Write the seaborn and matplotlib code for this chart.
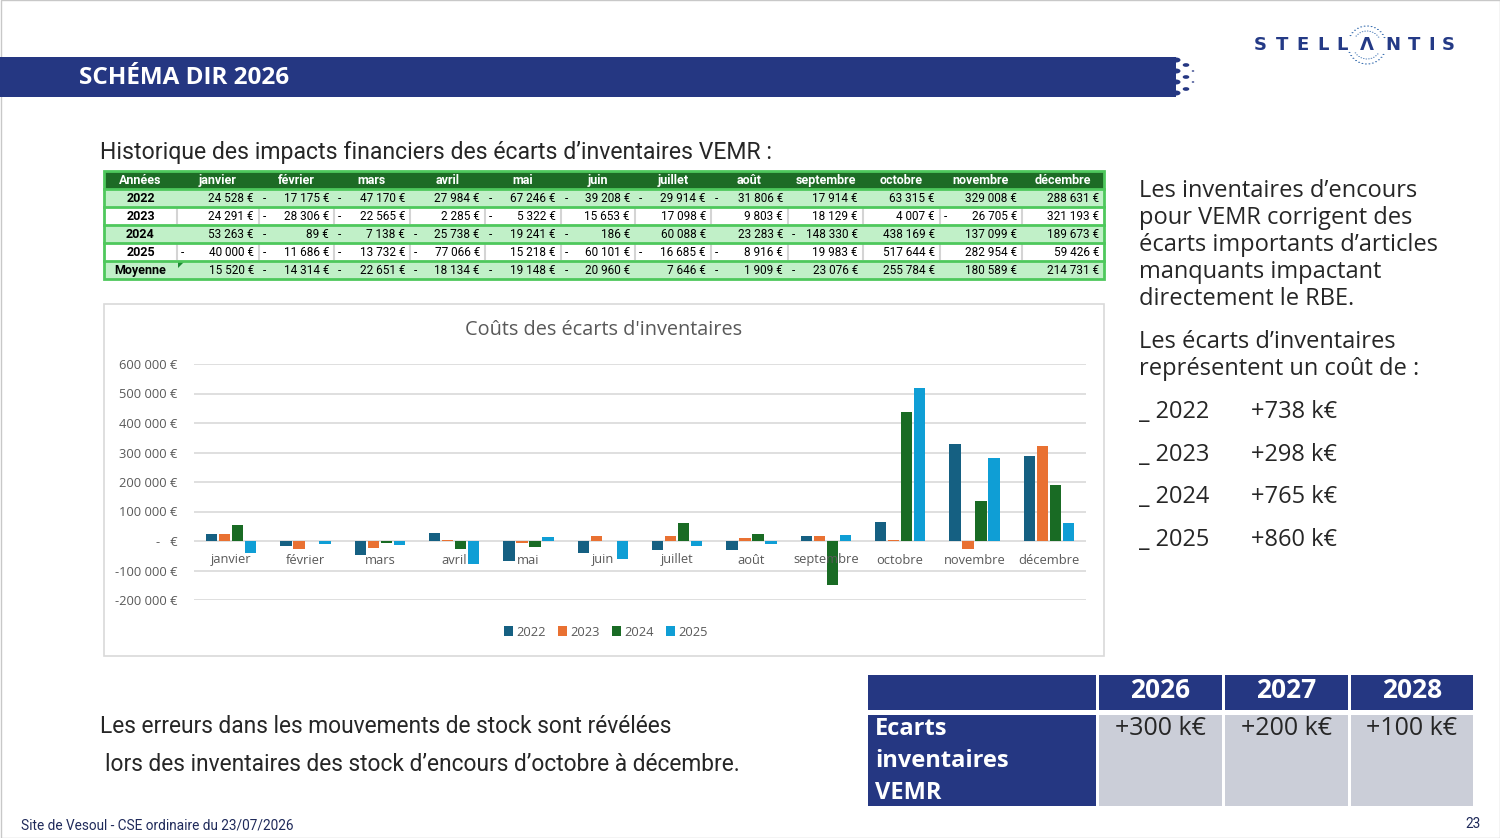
import numpy as np
import pandas as pd
import matplotlib
matplotlib.use('Agg')
import matplotlib.pyplot as plt
import seaborn as sns
from matplotlib.patches import Rectangle, Circle, Polygon
from matplotlib.lines import Line2D

# ---------------- data ----------------
mois = ['janvier', 'février', 'mars', 'avril', 'mai', 'juin', 'juillet',
        'août', 'septembre', 'octobre', 'novembre', 'décembre']
annees = ['2022', '2023', '2024', '2025']
v2022 = [24528, -17175, -47170, 27984, -67246, -39208, -29914, -31806, 17914, 63315, 329008, 288631]
v2023 = [24291, -28306, -22565, 2285, -5322, 15653, 17098, 9803, 18129, 4007, -26705, 321193]
v2024 = [53263, -89, -7138, -25738, -19241, -186, 60088, 23283, -148330, 438169, 137099, 189673]
v2025 = [-40000, -11686, -13732, -77066, 15218, -60101, -16685, -8916, 19983, 517644, 282954, 59426]
moyenne = [15520, -14314, -22651, -18134, -19148, -20960, 7646, -1909, -23076, 255784, 180589, 214731]
couleurs = ['#156082', '#e97132', '#196b24', '#0f9ed5']
yticks = [-200000, -100000, 0, 100000, 200000, 300000, 400000, 500000, 600000]

cout_annees = ['2022', '2023', '2024', '2025']
cout_valeurs = ['+738 k€', '+298 k€', '+765 k€', '+860 k€']
obj_annees = ['2026', '2027', '2028']
obj_valeurs = ['+300 k€', '+200 k€', '+100 k€']

series = {'2022': v2022, '2023': v2023, '2024': v2024, '2025': v2025}
df = pd.DataFrame([(m, a, series[a][i]) for a in annees for i, m in enumerate(mois)],
                  columns=['mois', 'annee', 'valeur'])

# ---------------- figure ----------------
W, H = 1500, 838
fig = plt.figure(figsize=(W / 100, H / 100), dpi=100)
fig.patch.set_facecolor('white')
NAVY = '#253782'
NARROW = ['Roboto', 'DejaVu Sans']
SANS = ['Open Sans', 'DejaVu Sans']


def fx(x):
    return x / W


def fy(y):
    return 1 - y / H


def T(x, y, s, **kw):
    kw.setdefault('va', 'center')
    return fig.text(fx(x), fy(y), s, **kw)


def R(x0, y0, x1, y1, **kw):
    kw.setdefault('zorder', -1)
    fig.patches.append(Rectangle((fx(x0), fy(y1)), fx(x1) - fx(x0), fy(y0) - fy(y1),
                                 transform=fig.transFigure, **kw))


# slide border
R(0.5, 0.5, W - 0.5, H - 0.5, facecolor='none', edgecolor='#c8c8c8', lw=1)

# title band
R(0, 57, 1176, 97, facecolor=NAVY, edgecolor='none')
for yy in (60, 71, 82, 93):
    fig.patches.append(Circle((fx(1176), fy(yy)), 4.5 / W, transform=fig.transFigure,
                              facecolor=NAVY, edgecolor='none'))
for yy in (65, 77, 89):
    fig.patches.append(Circle((fx(1186), fy(yy)), 3.3 / W, transform=fig.transFigure,
                              facecolor=NAVY, edgecolor='none'))
for yy in (71, 82):
    fig.patches.append(Circle((fx(1193), fy(yy)), 1.3 / W, transform=fig.transFigure,
                              facecolor=NAVY, edgecolor='none'))
T(79, 78, 'SCHÉMA DIR 2026', color='white', fontsize=17.5, fontweight='bold', family=SANS)

# Stellantis logo
letters = ['S', 'T', 'E', 'L', 'L', 'Λ', 'N', 'T', 'I', 'S']
lx = [1260, 1282, 1303, 1323, 1342, 1367, 1393, 1414, 1432, 1448]
for ch, x in zip(letters, lx):
    T(x, 45, ch, color='#243a86', fontsize=13, fontweight='bold', ha='center',
      family=['DejaVu Sans'])
ang = np.linspace(0, 2 * np.pi, 34, endpoint=False)
for rad, sz in ((19, 2.0), (14, 1.6)):
    xs = 1367 + rad * np.cos(ang + rad)
    ys = 45 + rad * np.sin(ang + rad)
    for a, b in zip(xs, ys):
        if abs(b - 45) > 7:
            fig.patches.append(Circle((fx(a), fy(b)), sz / 2 / W, transform=fig.transFigure,
                                      facecolor='#3a6fb0', edgecolor='none'))

# section heading
T(100, 153, 'Historique des impacts financiers des écarts d’inventaires VEMR :',
  fontsize=16.6, color='#262626', family=NARROW)

# ---------------- data table ----------------
cx = [104, 177, 259, 334, 410, 485, 561, 635, 711, 788, 863, 940, 1022, 1104]
ry = [171, 189, 207, 225, 243, 261, 279]
GREEN_D = '#1d6b25'
GREEN_L = '#c1f0c8'
GREEN_B = '#4ec85c'
TFS = 8.5
HFS = 9
R(cx[0], ry[0], cx[-1], ry[1], facecolor=GREEN_D, edgecolor='none')
rows = [('2022', v2022), ('2023', v2023), ('2024', v2024), ('2025', v2025), ('Moyenne', moyenne)]
for k, (lab, vals) in enumerate(rows):
    y0, y1 = ry[k + 1], ry[k + 2]
    fill = GREEN_L if k % 2 == 0 else 'white'
    R(cx[0], y0, cx[-1], y1, facecolor=fill, edgecolor='none')
    if k % 2 == 1:
        for x in cx[1:-1]:
            fig.lines.append(Line2D([fx(x), fx(x)], [fy(y0 + 1.5), fy(y1 - 1.5)],
                                    transform=fig.transFigure, color='#d4d4d4', lw=1.5))
    yc = (y0 + y1) / 2 + 0.5
    T((cx[0] + cx[1]) / 2, yc, lab, ha='center', fontsize=HFS, fontweight='bold',
      color='black', family=NARROW)
    for j, v in enumerate(vals):
        s = f"{abs(v):,}".replace(',', ' ') + ' €'
        T(cx[j + 2] - 5, yc, s, ha='right', fontsize=TFS, color='black', family=NARROW)
        if v < 0:
            T(cx[j + 1] + 4, yc, '-', ha='left', fontsize=TFS, color='black', family=NARROW)
T((cx[0] + cx[1]) / 2, 180.5, 'Années', ha='center', fontsize=HFS, fontweight='bold',
  color='white', family=NARROW)
for j, m in enumerate(mois):
    T((cx[j + 1] + cx[j + 2]) / 2, 180.5, m, ha='center', fontsize=HFS, fontweight='bold',
      color='white', family=NARROW)
for y in ry[1:-1]:
    fig.lines.append(Line2D([fx(cx[0]), fx(cx[-1])], [fy(y), fy(y)],
                            transform=fig.transFigure, color=GREEN_B, lw=2))
R(cx[0], ry[0], cx[-1], ry[-1], facecolor='none', edgecolor=GREEN_B, lw=2, zorder=1)
fig.patches.append(Polygon([(fx(178), fy(262)), (fx(184), fy(262)), (fx(178), fy(268))],
                           closed=True, transform=fig.transFigure, facecolor='#1d8a35',
                           edgecolor='none'))

# ---------------- chart ----------------
R(104, 304, 1104, 656, facecolor='white', edgecolor='#d9d9d9', lw=1.2)
T(604, 330, 'Coûts des écarts d\'inventaires', ha='center', fontsize=14.3, color='#595959',
  family=SANS)

ax = fig.add_axes([fx(194), fy(600), fx(1086) - fx(194), fy(364) - fy(600)])
sns.barplot(data=df, x='mois', y='valeur', hue='annee', hue_order=annees, order=mois,
            palette=couleurs, saturation=1, width=0.7, gap=0.15, legend=False, ax=ax)
ax.set_ylim(-200000, 600000)
ax.set_xlim(-0.5, len(mois) - 0.5)
ax.set_facecolor('none')
ax.patch.set_alpha(0)
for sp in ax.spines.values():
    sp.set_visible(False)
ax.set_yticks(yticks)
ax.set_yticklabels([('-' if t < 0 else '') + f"{abs(t):,}".replace(',', ' ') + ' €'
                    if t != 0 else '-   €' for t in yticks],
                   color='#595959', fontsize=9.3, family=SANS)
ax.tick_params(axis='both', length=0)
ax.tick_params(axis='y', pad=12)
ax.set_xticks([])
ax.set_xlabel('')
ax.set_ylabel('')
ax.set_axisbelow(True)
ax.grid(axis='y', color='#d9d9d9', lw=1.2)
for i, m in enumerate(mois):
    ax.annotate(m, xy=(i, 0), xytext=(0, -9), textcoords='offset points', ha='center',
                va='top', fontsize=9.3, color='#595959', family=SANS)

handles = [Rectangle((0, 0), 1, 1, facecolor=c, edgecolor='none') for c in couleurs]
fig.legend(handles, annees, loc='center', bbox_to_anchor=(fx(606), fy(632)), ncol=4,
           frameon=False, prop={'family': SANS, 'size': 9.3}, labelcolor='#595959',
           handlelength=0.7, handleheight=0.7, handletextpad=0.3, columnspacing=0.9)

# ---------------- right text ----------------
RFS = 17
para1 = ['Les inventaires d’encours', 'pour VEMR corrigent des',
         'écarts importants d’articles', 'manquants impactant', 'directement le RBE.']
for k, line in enumerate(para1):
    T(1139, 191 + 27 * k, line, fontsize=RFS, color='#262626', family=SANS)
para2 = ['Les écarts d’inventaires', 'représentent un coût de :']
for k, line in enumerate(para2):
    T(1139, 342 + 27 * k, line, fontsize=RFS, color='#262626', family=SANS)
for k, (a, v) in enumerate(zip(cout_annees, cout_valeurs)):
    yy = 412 + 42.7 * k
    T(1139, yy, '_ ' + a, fontsize=RFS, color='#262626', family=SANS)
    T(1251, yy, v, fontsize=RFS, color='#262626', family=SANS)

# ---------------- bottom text ----------------
T(100, 726, 'Les erreurs dans les mouvements de stock sont révélées', fontsize=16.4,
  color='#262626', family=NARROW)
T(105, 764, 'lors des inventaires des stock d’encours d’octobre à décembre.', fontsize=16.4,
  color='#262626', family=NARROW)
T(21, 825, 'Site de Vesoul - CSE ordinaire du 23/07/2026', fontsize=9.8, color='#1f2a5a',
  family=NARROW)
T(1481, 824, '23', fontsize=9.8, color='#1f2a5a', ha='right', family=NARROW)

# ---------------- objective table ----------------
ox = [(868, 1096), (1099, 1222), (1225, 1348), (1351, 1473)]
R(ox[0][0], 675, ox[0][1], 710, facecolor=NAVY, edgecolor='none')
R(ox[0][0], 715, ox[0][1], 806, facecolor=NAVY, edgecolor='none')
for k, ((x0, x1), a, v) in enumerate(zip(ox[1:], obj_annees, obj_valeurs)):
    R(x0, 675, x1, 710, facecolor=NAVY, edgecolor='none')
    R(x0, 715, x1, 806, facecolor='#cbced8', edgecolor='none')
    T((x0 + x1) / 2, 690, a, ha='center', fontsize=19, fontweight='bold', color='white',
      family=SANS)
    T((x0 + x1) / 2, 728, v, ha='center', fontsize=18, color='#262626', family=SANS)
for k, line in enumerate(['Ecarts', 'inventaires', 'VEMR']):
    T(875, 729 + 32 * k, line, fontsize=17, fontweight='bold', color='white', family=SANS)

fig.savefig('out.png', dpi=100)
